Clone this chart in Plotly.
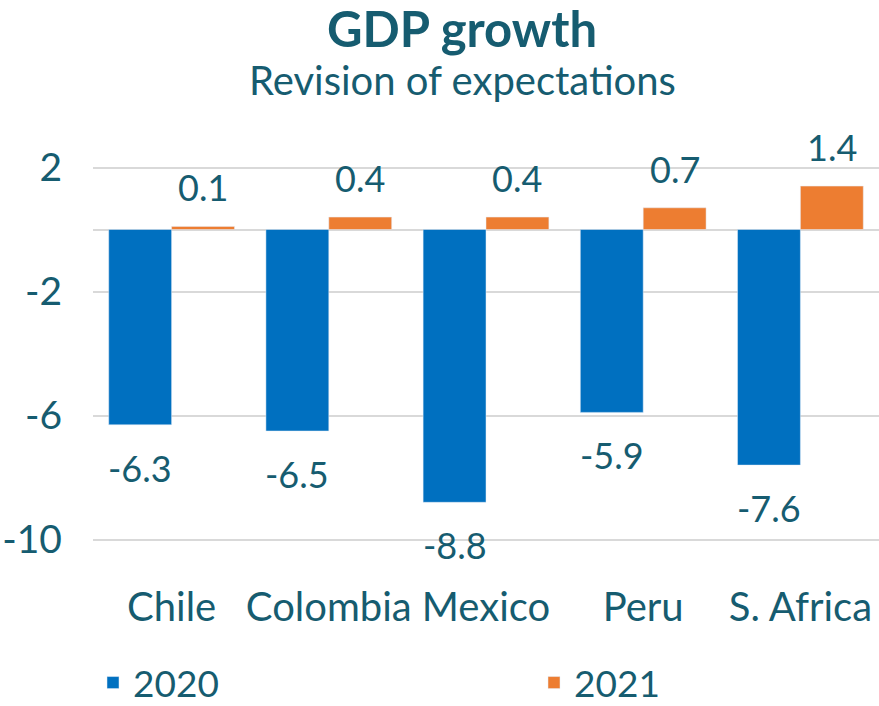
import plotly.graph_objects as go

# GDP growth expectation revisions (percentage points)
countries = ["Chile", "Colombia", "Mexico", "Peru", "S. Africa"]
rev_2020 = [-6.3, -6.5, -8.8, -5.9, -7.6]
rev_2021 = [0.1, 0.4, 0.4, 0.7, 1.4]
y_ticks = [2, -2, -6, -10]
y_tick_text = ["2", "-2", "-6", "-10"]

TEXT = "#165C70"
BLUE = "#0070C0"
ORANGE = "#ED7D31"
GRID = "#D9D9D9"
FONT = "Lato"

W, H = 879, 706
L, R, T, B = 93, 0, 152, 151
plot_w = W - L - R
plot_h = H - T - B

x_idx = list(range(len(countries)))

fig = go.Figure()
fig.add_trace(go.Bar(name="2020", x=x_idx, y=rev_2020, marker_color=BLUE,
                     legend="legend", showlegend=True))
fig.add_trace(go.Bar(name="2021", x=x_idx, y=rev_2021, marker_color=ORANGE,
                     legend="legend2", showlegend=True))

# value labels just beyond each bar end
annotations = []
for i in x_idx:
    for off, v in ((-0.2, rev_2020[i]), (0.2, rev_2021[i])):
        annotations.append(dict(
            x=i + off, y=v, xref="x", yref="y",
            text=f"{v:.1f}", showarrow=False,
            yshift=-43 if v < 0 else 39,
            font=dict(family=FONT, size=36, color=TEXT),
        ))

# subtitle line under the main title
annotations.append(dict(
    text="Revision of expectations", showarrow=False,
    xref="paper", yref="paper",
    x=(462 - L) / plot_w, xanchor="center",
    y=(H - B - 80) / plot_h, yanchor="middle",
    font=dict(family=FONT, size=40, color=TEXT),
))

legend_common = dict(
    visible=True,
    orientation="h", xref="container", yref="container",
    xanchor="left", y=(H - 683) / H, yanchor="middle",
    font=dict(family=FONT, size=37, color=TEXT),
    itemclick=False, itemdoubleclick=False,
)

fig.update_layout(
    width=W, height=H,
    showlegend=True,
    margin=dict(l=L, r=R, t=T, b=B, autoexpand=False),
    paper_bgcolor="white", plot_bgcolor="white",
    barmode="group", bargap=0.2, bargroupgap=0,
    font=dict(family=FONT, color=TEXT),
    title=dict(
        text="<b>GDP growth</b>",
        font=dict(family=FONT, size=49, color=TEXT),
        x=462 / W, xanchor="center", xref="container",
        y=(H - 30) / H, yanchor="middle", yref="container",
    ),
    xaxis=dict(
        range=[-0.5, 4.5], tickvals=x_idx, ticktext=countries,
        showgrid=False, zeroline=False, showline=False, ticks="",
        tickfont=dict(family=FONT, size=40, color=TEXT),
        ticklabelstandoff=25, automargin=False,
    ),
    yaxis=dict(
        range=[-10.5, 2.5], tickvals=y_ticks, ticktext=y_tick_text,
        showgrid=True, gridcolor=GRID, gridwidth=1.5,
        zeroline=True, zerolinecolor=GRID, zerolinewidth=1.5,
        showline=False, ticks="",
        tickfont=dict(family=FONT, size=39, color=TEXT),
        ticklabelstandoff=30, automargin=False,
    ),
    legend=dict(x=93 / W, **legend_common),
    legend2=dict(x=534 / W, **legend_common),
    annotations=annotations,
)

fig.write_html("out.html")
